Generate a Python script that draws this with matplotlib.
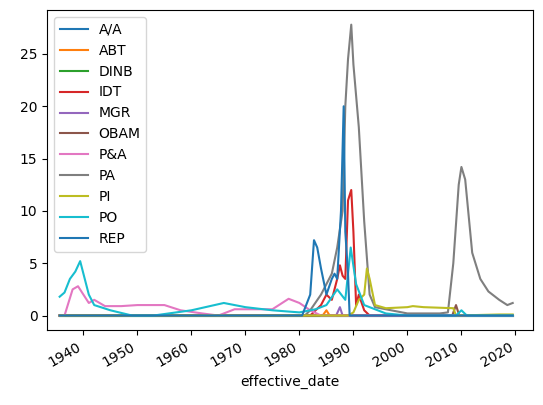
import numpy as np
import pandas as pd
import matplotlib
matplotlib.use("Agg")
import matplotlib.pyplot as plt

START, END = 1935.6, 2019.5

# (year, value) keyframes
aa = [(START, 0), (END, 0)]
abt = [(START, 0), (1984.3, 0), (1985.0, 0.5), (1985.6, 0), (END, 0)]
dinb = [(START, 0), (END, 0)]
idt = [(START, 0), (1982.0, 0), (1983.0, 0.5), (1984.0, 1.0), (1985.0, 2.0), (1986.0, 1.5),
       (1987.0, 3.5), (1987.5, 4.8), (1988.0, 3.8), (1988.5, 3.5), (1989.0, 11.0),
       (1989.6, 12.0), (1990.0, 8.0), (1990.5, 1.0), (1991.0, 2.0), (1992.0, 0.5),
       (1993.0, 0), (END, 0)]
mgr = [(START, 0), (1986.8, 0), (1987.5, 0.8), (1988.0, 0), (END, 0)]
obam = [(START, 0), (2008.3, 0), (2009.0, 1.0), (2009.6, 0), (END, 0)]
pa_ = [(START, 0), (1936.5, 0), (1938.0, 2.5), (1939.0, 2.8), (1940.0, 2.0), (1941.0, 1.2),
       (1942.0, 1.5), (1944.0, 0.9), (1947.0, 0.9), (1950.0, 1.0), (1955.0, 1.0),
       (1958.0, 0.5), (1962.0, 0.2), (1965.0, 0), (1968.0, 0.6), (1975.0, 0.6),
       (1978.0, 1.6), (1980.0, 1.2), (1982.0, 0.5), (1984.0, 0), (END, 0)]
pa = [(START, 0), (1981.0, 0), (1982.0, 0.5), (1984.0, 2.0), (1986.0, 4.0), (1987.0, 6.5),
      (1988.0, 10.0), (1988.5, 20.0), (1989.0, 24.5), (1989.6, 27.8), (1990.0, 24.0),
      (1991.0, 18.0), (1992.0, 9.0), (1993.0, 2.0), (1994.0, 0.8), (1997.0, 0.5),
      (2000.0, 0.2), (2006.0, 0.2), (2007.5, 0.3), (2008.5, 5.0), (2009.5, 12.5),
      (2010.0, 14.2), (2010.7, 13.0), (2012.0, 6.0), (2013.5, 3.5), (2015.0, 2.3),
      (2017.0, 1.5), (2018.5, 1.0), (END, 1.2)]
pi = [(START, 0), (1989.0, 0), (1990.0, 0.3), (1991.0, 1.5), (1992.0, 2.0), (1992.5, 4.5),
      (1993.0, 3.5), (1994.0, 1.0), (1996.0, 0.7), (2000.0, 0.8), (2001.0, 0.9),
      (2003.0, 0.8), (2008.5, 0.7), (2009.0, 0), (2017.0, 0.1), (END, 0.1)]
po = [(START, 1.8), (1936.5, 2.2), (1937.5, 3.5), (1938.5, 4.2), (1939.4, 5.2), (1940.0, 4.0),
      (1941.0, 2.0), (1942.0, 1.0), (1945.0, 0.5), (1949.0, 0), (1953.0, 0),
      (1960.0, 0.5), (1966.0, 1.2), (1970.0, 0.8), (1975.0, 0.5), (1980.0, 0.3),
      (1983.0, 0.6), (1985.0, 1.0), (1987.0, 2.5), (1988.5, 1.5), (1989.5, 6.5),
      (1990.5, 3.0), (1992.0, 1.0), (1996.0, 0.2), (2000.0, 0), (2009.0, 0),
      (2010.0, 0.5), (2011.0, 0), (END, 0)]
rep = [(START, 0), (1980.5, 0), (1982.0, 2.0), (1982.7, 7.2), (1983.3, 6.5), (1984.0, 4.5),
       (1985.0, 2.0), (1986.0, 3.5), (1986.5, 4.0), (1987.0, 3.5), (1987.7, 10.0),
       (1988.2, 20.0), (1988.5, 8.0), (1989.0, 4.0), (1989.3, 0), (END, 0)]

names = ["A/A", "ABT", "DINB", "IDT", "MGR", "OBAM", "P&A", "PA", "PI", "PO", "REP"]
series = [aa, abt, dinb, idt, mgr, obam, pa_, pa, pi, po, rep]


def to_dates(years):
    return [pd.Timestamp(int(y), 1, 1) + pd.Timedelta(days=(y - int(y)) * 365.25) for y in years]


fig, ax = plt.subplots(figsize=(5.43, 4.05), dpi=100)
for name, s in zip(names, series):
    yrs, vals = zip(*s)
    ax.plot(to_dates(yrs), vals, label=name)
ax.set_xlim(to_dates([1933.3, 2023.3]))
ax.set_xlabel("effective_date")
ax.legend(loc="upper left")
fig.autofmt_xdate()
fig.subplots_adjust(left=0.087, right=0.982, top=0.975, bottom=0.185)
fig.savefig("out.png")
